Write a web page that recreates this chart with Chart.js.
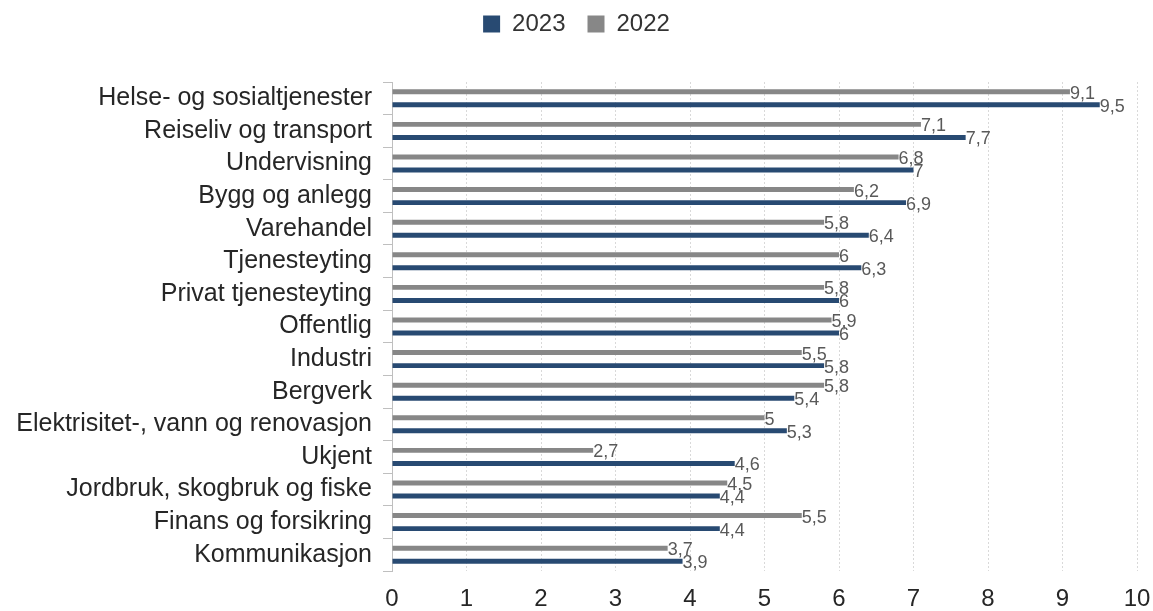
<!DOCTYPE html>
<html>
<head>
<meta charset="utf-8">
<script src="https://cdn.jsdelivr.net/npm/chart.js@4"></script>
<style>
  html, body { margin: 0; padding: 0; background: #fff; }
  #wrap { width: 1153px; height: 611px; }
</style>
</head>
<body>
<div id="wrap"><canvas id="barChart"></canvas></div>
<script>
// Dados
const categories = [
    'Helse- og sosialtjenester',
    'Reiseliv og transport',
    'Undervisning',
    'Bygg og anlegg',
    'Varehandel',
    'Tjenesteyting',
    'Privat tjenesteyting',
    'Offentlig',
    'Industri',
    'Bergverk',
    'Elektrisitet-, vann og renovasjon',
    'Ukjent',
    'Jordbruk, skogbruk og fiske',
    'Finans og forsikring',
    'Kommunikasjon'
];
const values2022 = [9.1, 7.1, 6.8, 6.2, 5.8, 6, 5.8, 5.9, 5.5, 5.8, 5, 2.7, 4.5, 5.5, 3.7];
const values2023 = [9.5, 7.7, 7, 6.9, 6.4, 6.3, 6, 6, 5.8, 5.4, 5.3, 4.6, 4.4, 4.4, 3.9];
const xTicks = [0, 1, 2, 3, 4, 5, 6, 7, 8, 9, 10];

const FONT = '"Liberation Sans", Arial, sans-serif';
const fmt = v => String(v).replace('.', ',');

// etiquetas no fim das barras
const barLabels = {
    id: 'barLabels',
    afterDatasetsDraw(chart) {
        const ctx = chart.ctx;
        ctx.save();
        ctx.font = '18px ' + FONT;
        ctx.fillStyle = '#595959';
        ctx.textAlign = 'left';
        ctx.textBaseline = 'middle';
        chart.data.datasets.forEach((ds, i) => {
            chart.getDatasetMeta(i).data.forEach((el, j) => {
                ctx.fillText(fmt(ds.data[j]), el.x, el.y + 2);
            });
        });
        ctx.restore();
    }
};

// espaço abaixo da legenda
const legendGap = {
    id: 'legendGap',
    beforeInit(chart) {
        const fit = chart.legend.fit;
        chart.legend.fit = function () {
            fit.bind(chart.legend)();
            this.height = 92;
        };
    }
};

const data = {
    labels: categories,
    datasets: [
        {
            label: '2022',
            backgroundColor: '#878787',
            data: values2022
        },
        {
            label: '2023',
            backgroundColor: '#284a72',
            data: values2023
        }
    ]
};

const config = {
    type: 'bar',
    data: data,
    plugins: [barLabels, legendGap],
    options: {
        indexAxis: 'y',
        responsive: true,
        maintainAspectRatio: false,
        animation: false,
        layout: { padding: { left: 0, right: 0, top: -10, bottom: 0 } },
        datasets: { bar: { categoryPercentage: 0.8, barPercentage: 0.38 } },
        plugins: {
            tooltip: { enabled: false },
            legend: {
                position: 'top',
                reverse: true,
                labels: {
                    boxWidth: 17,
                    boxHeight: 17,
                    padding: 22,
                    color: '#333333',
                    font: { size: 24, family: FONT }
                }
            }
        },
        scales: {
            x: {
                min: 0,
                max: 10,
                afterBuildTicks: s => { s.ticks = xTicks.map(v => ({ value: v })); },
                afterFit: s => { s.height = 40; s.paddingRight = 16; },
                grid: {
                    color: '#d9d9d9',
                    drawTicks: false
                },
                border: { display: false, dash: [2, 2] },
                ticks: {
                    padding: 14,
                    color: '#262626',
                    font: { size: 24, family: FONT }
                }
            },
            y: {
                afterFit: s => { s.width = 392; },
                grid: {
                    drawOnChartArea: false,
                    tickLength: 9,
                    color: '#bfbfbf'
                },
                border: { color: '#bfbfbf' },
                ticks: {
                    autoSkip: false,
                    padding: 11,
                    color: '#262626',
                    font: { size: 25, family: FONT }
                }
            }
        }
    }
};

// Inicialização
const ctx = document.getElementById('barChart').getContext('2d');
const myChart = new Chart(ctx, config);
</script>
</body>
</html>
